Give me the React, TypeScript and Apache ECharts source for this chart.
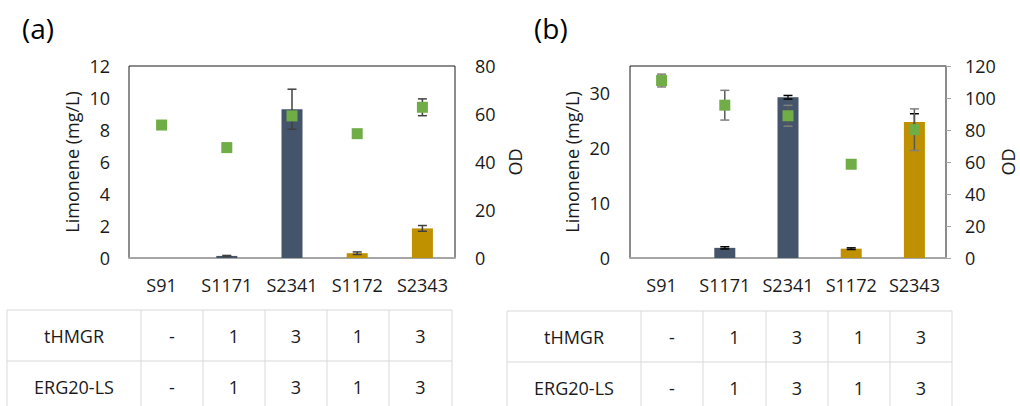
import React, { useEffect, useRef } from "react";
import * as echarts from "echarts";

const categories = ["S91", "S1171", "S2341", "S1172", "S2343"];
const barColors = ["#44546A", "#44546A", "#44546A", "#BF9000", "#BF9000"];

const limoneneA = [0, 0.13, 9.3, 0.3, 1.85];
const limoneneErrA = [0, 0.03, 1.25, 0.08, 0.18];
const odA = [55.4, 46, 59.2, 51.8, 62.8];
const odErrA = [0.5, 0.5, 0.5, 0.5, 3.5];

const limoneneB = [0, 1.85, 29.3, 1.7, 24.8];
const limoneneErrB = [0, 0.2, 0.33, 0.15, 1.5];
const odB = [110.9, 95.5, 88.9, 58.6, 80.2];
const odErrB = [4, 9.3, 6.5, 1.5, 13];

const tableRowNames = ["tHMGR", "ERG20-LS"];
const tHMGR = ["-", "1", "3", "1", "3"];
const erg20LS = ["-", "1", "3", "1", "3"];

const FONT = "Open Sans";
const FS = 18;

function errData(vals: number[], errs: number[]) {
  return vals.map((v, i) => [i, v - errs[i], v + errs[i]]);
}

function errSeries(
  name: string,
  vals: number[],
  errs: number[],
  xAxisIndex: number,
  yAxisIndex: number,
  color: string,
  capColor: string
) {
  return {
    name,
    type: "custom",
    xAxisIndex,
    yAxisIndex,
    z: 3,
    encode: { x: 0, y: [1, 2] },
    data: errData(vals, errs),
    renderItem: (params: any, api: any) => {
      const x = api.value(0);
      const lo = api.coord([x, api.value(1)]);
      const hi = api.coord([x, api.value(2)]);
      const cw = 4.5;
      return {
        type: "group",
        children: [
          {
            type: "line",
            shape: { x1: lo[0], y1: lo[1], x2: hi[0], y2: hi[1] },
            style: { stroke: color, lineWidth: 1.5 },
          },
          {
            type: "line",
            shape: { x1: lo[0] - cw, y1: lo[1], x2: lo[0] + cw, y2: lo[1] },
            style: { stroke: capColor, lineWidth: 1.5 },
          },
          {
            type: "line",
            shape: { x1: hi[0] - cw, y1: hi[1], x2: hi[0] + cw, y2: hi[1] },
            style: { stroke: capColor, lineWidth: 1.5 },
          },
        ],
      };
    },
  };
}

function tableGraphics(cols: number[], top: number, mid: number, bottom: number) {
  const lineStyle = { stroke: "#D9D9D9", lineWidth: 1 };
  const els: any[] = [];
  els.push({ type: "line", shape: { x1: cols[0], y1: top, x2: cols[cols.length - 1], y2: top }, style: lineStyle });
  els.push({ type: "line", shape: { x1: cols[0], y1: mid, x2: cols[cols.length - 1], y2: mid }, style: lineStyle });
  cols.forEach((c) => {
    els.push({ type: "line", shape: { x1: c, y1: top, x2: c, y2: bottom }, style: lineStyle });
  });
  const rows = [tHMGR, erg20LS];
  const rowY = [(top + mid) / 2, mid + (mid - top) / 2];
  rows.forEach((row, r) => {
    const cells = [tableRowNames[r], ...row];
    cells.forEach((t, i) => {
      els.push({
        type: "text",
        x: (cols[i] + cols[i + 1]) / 2,
        y: rowY[r],
        style: {
          text: t,
          fontFamily: FONT,
          fontSize: FS,
          fill: "#1a1a1a",
          align: "center",
          verticalAlign: "middle",
        },
      });
    });
  });
  return els;
}

export default function App() {
  const ref = useRef<HTMLDivElement>(null);
  useEffect(() => {
    if (!ref.current) return;
    const chart = echarts.init(ref.current, undefined, { renderer: "svg" });
    const axisLabel = { fontFamily: FONT, fontSize: FS, color: "#1a1a1a" };
    const nameStyle = { fontFamily: FONT, fontSize: FS, color: "#1a1a1a" };
    const xAxisCommon = {
      type: "category",
      data: categories,
      axisLine: { show: true, lineStyle: { color: "#A6A6A6", width: 2 } },
      axisTick: { show: false },
      axisLabel: { ...axisLabel, margin: 18, interval: 0 },
    };
    const option: any = {
      animation: false,
      backgroundColor: "#fff",
      textStyle: { fontFamily: FONT },
      graphic: [
        { type: "text", x: 22, y: 28, style: { text: "(a)", fontFamily: FONT, fontSize: 28, fill: "#000", verticalAlign: "middle" } },
        { type: "text", x: 534, y: 28, style: { text: "(b)", fontFamily: FONT, fontSize: 28, fill: "#000", verticalAlign: "middle" } },
        ...tableGraphics([7, 141, 203, 265, 327, 389, 452], 310, 361, 406),
        ...tableGraphics([507, 641, 703, 766, 828, 890, 952], 311, 362, 406),
      ],
      grid: [
        { left: 129, top: 66, width: 326, height: 192, show: true, borderColor: "#1a1a1a", borderWidth: 1 },
        { left: 630, top: 66, width: 316, height: 192, show: true, borderColor: "#1a1a1a", borderWidth: 1 },
      ],
      xAxis: [
        { ...xAxisCommon, gridIndex: 0 },
        { ...xAxisCommon, gridIndex: 1 },
      ],
      yAxis: [
        {
          type: "value", gridIndex: 0, position: "left", min: 0, max: 12, interval: 2,
          name: "Limonene (mg/L)", nameLocation: "middle", nameRotate: 90, nameGap: 48, nameMoveOverlap: false, nameTextStyle: nameStyle,
          axisLine: { show: false }, axisTick: { show: false }, splitLine: { show: false },
          axisLabel: { ...axisLabel, margin: 19 },
        },
        {
          type: "value", gridIndex: 0, position: "right", min: 0, max: 80, interval: 20,
          name: "OD", nameLocation: "middle", nameRotate: 90, nameGap: 51, nameMoveOverlap: false, nameTextStyle: nameStyle,
          axisLine: { show: false }, axisTick: { show: false }, splitLine: { show: false },
          axisLabel: { ...axisLabel, margin: 20 },
        },
        {
          type: "value", gridIndex: 1, position: "left", min: 0, max: 35, interval: 10,
          name: "Limonene (mg/L)", nameLocation: "middle", nameRotate: 90, nameGap: 49, nameMoveOverlap: false, nameTextStyle: nameStyle,
          axisLine: { show: false }, axisTick: { show: false }, splitLine: { show: false },
          axisLabel: { ...axisLabel, margin: 20, formatter: (v: number) => (v === 35 ? "" : String(v)) },
        },
        {
          type: "value", gridIndex: 1, position: "right", min: 0, max: 120, interval: 20,
          name: "OD", nameLocation: "middle", nameRotate: 90, nameGap: 53, nameMoveOverlap: false, nameTextStyle: nameStyle,
          axisLine: { show: true, lineStyle: { color: "#8C8C8C", width: 1.5 } },
          axisTick: { show: true, length: 5, lineStyle: { color: "#A6A6A6", width: 1 } },
          splitLine: { show: false },
          axisLabel: { ...axisLabel, margin: 19 },
        },
      ],
      series: [
        {
          name: "Limonene a", type: "bar", xAxisIndex: 0, yAxisIndex: 0, barWidth: 21, z: 2,
          data: limoneneA.map((v, i) => ({ value: v, itemStyle: { color: barColors[i] } })),
        },
        errSeries("Limonene err a", limoneneA.map((v) => (v === 0 ? NaN : v)), limoneneErrA, 0, 0, "#404040", "#404040"),
        errSeries("OD err a", odA, odErrA, 0, 1, "#404040", "#404040"),
        {
          name: "OD a", type: "scatter", xAxisIndex: 0, yAxisIndex: 1, symbol: "rect", symbolSize: 11, z: 5,
          itemStyle: { color: "#70AD47", opacity: 1 }, data: odA,
        },
        {
          name: "Limonene b", type: "bar", xAxisIndex: 1, yAxisIndex: 2, barWidth: 21, z: 2,
          data: limoneneB.map((v, i) => ({ value: v, itemStyle: { color: barColors[i] } })),
        },
        errSeries("Limonene err b", limoneneB.map((v) => (v === 0 ? NaN : v)), limoneneErrB, 1, 2, "#262626", "#000"),
        errSeries("OD err b", odB, odErrB, 1, 3, "#595959", "#7f7f7f"),
        {
          name: "OD b", type: "scatter", xAxisIndex: 1, yAxisIndex: 3, symbol: "rect", symbolSize: 11, z: 5,
          itemStyle: { color: "#70AD47", opacity: 1 }, data: odB,
        },
      ],
    };
    chart.setOption(option);
    return () => chart.dispose();
  }, []);
  return (
    <div
      ref={ref}
      style={{ position: "fixed", left: 0, top: 0, width: 1020, height: 406, background: "#fff" }}
    />
  );
}
